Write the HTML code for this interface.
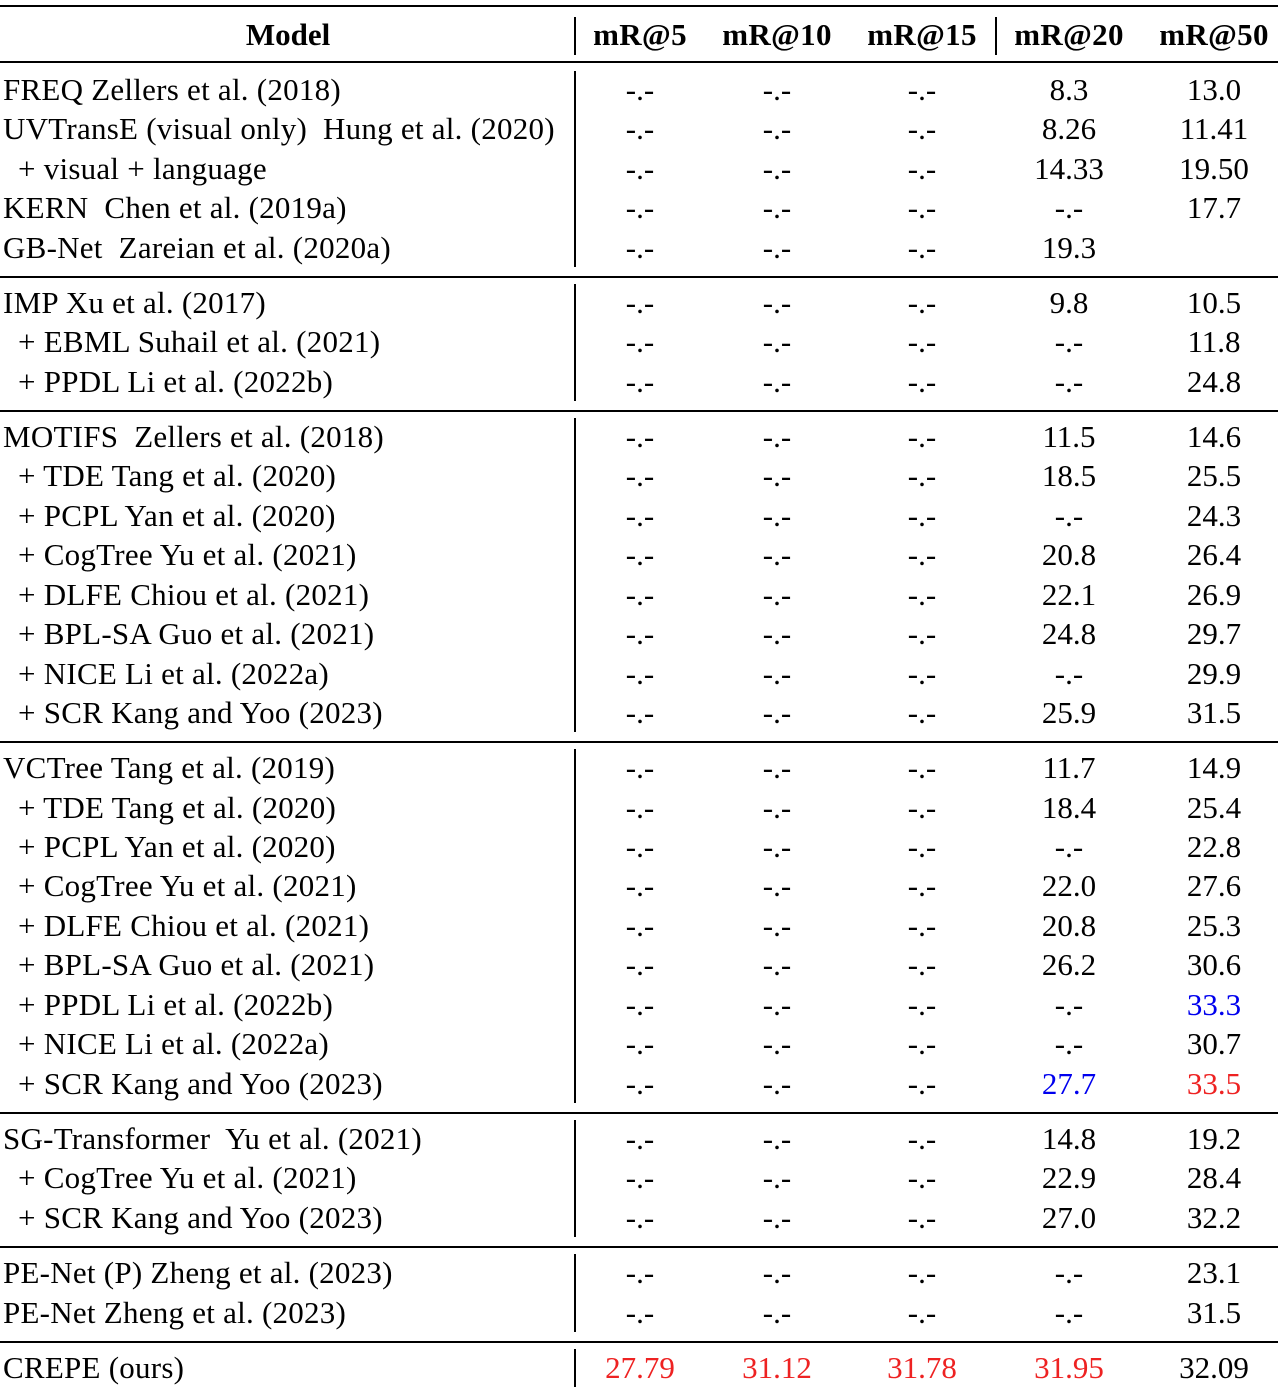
<!DOCTYPE html>
<html><head><meta charset="utf-8"><style>
body{margin:0;background:#fff;width:1278px;height:1390px;position:relative;overflow:hidden;font-family:"Liberation Serif",serif;font-size:31px;color:#000}
.t{position:absolute;white-space:nowrap;line-height:1}
.m{letter-spacing:0.25px}
.c{transform:translateX(-50%)}
.rule{position:absolute;left:0;width:1278px;background:#000}
.vl{position:absolute;width:1.5px;background:#000}
</style></head><body>
<div id="root"></div>
<script>
const models=[
["FREQ Zellers et al. (2018)",["-.-","-.-","-.-","8.3","13.0"]],
["UVTransE (visual only)&nbsp; Hung et al. (2020)",["-.-","-.-","-.-","8.26","11.41"]],
["+ visual + language",["-.-","-.-","-.-","14.33","19.50"]],
["KERN&nbsp; Chen et al. (2019a)",["-.-","-.-","-.-","-.-","17.7"]],
["GB-Net&nbsp; Zareian et al. (2020a)",["-.-","-.-","-.-","19.3",""]],
["IMP Xu et al. (2017)",["-.-","-.-","-.-","9.8","10.5"]],
["+ EBML Suhail et al. (2021)",["-.-","-.-","-.-","-.-","11.8"]],
["+ PPDL Li et al. (2022b)",["-.-","-.-","-.-","-.-","24.8"]],
["MOTIFS&nbsp; Zellers et al. (2018)",["-.-","-.-","-.-","11.5","14.6"]],
["+ TDE Tang et al. (2020)",["-.-","-.-","-.-","18.5","25.5"]],
["+ PCPL Yan et al. (2020)",["-.-","-.-","-.-","-.-","24.3"]],
["+ CogTree Yu et al. (2021)",["-.-","-.-","-.-","20.8","26.4"]],
["+ DLFE Chiou et al. (2021)",["-.-","-.-","-.-","22.1","26.9"]],
["+ BPL-SA Guo et al. (2021)",["-.-","-.-","-.-","24.8","29.7"]],
["+ NICE Li et al. (2022a)",["-.-","-.-","-.-","-.-","29.9"]],
["+ SCR Kang and Yoo (2023)",["-.-","-.-","-.-","25.9","31.5"]],
["VCTree Tang et al. (2019)",["-.-","-.-","-.-","11.7","14.9"]],
["+ TDE Tang et al. (2020)",["-.-","-.-","-.-","18.4","25.4"]],
["+ PCPL Yan et al. (2020)",["-.-","-.-","-.-","-.-","22.8"]],
["+ CogTree Yu et al. (2021)",["-.-","-.-","-.-","22.0","27.6"]],
["+ DLFE Chiou et al. (2021)",["-.-","-.-","-.-","20.8","25.3"]],
["+ BPL-SA Guo et al. (2021)",["-.-","-.-","-.-","26.2","30.6"]],
["+ PPDL Li et al. (2022b)",["-.-","-.-","-.-","-.-","33.3"]],
["+ NICE Li et al. (2022a)",["-.-","-.-","-.-","-.-","30.7"]],
["+ SCR Kang and Yoo (2023)",["-.-","-.-","-.-","27.7","33.5"]],
["SG-Transformer&nbsp; Yu et al. (2021)",["-.-","-.-","-.-","14.8","19.2"]],
["+ CogTree Yu et al. (2021)",["-.-","-.-","-.-","22.9","28.4"]],
["+ SCR Kang and Yoo (2023)",["-.-","-.-","-.-","27.0","32.2"]],
["PE-Net (P) Zheng et al. (2023)",["-.-","-.-","-.-","-.-","23.1"]],
["PE-Net Zheng et al. (2023)",["-.-","-.-","-.-","-.-","31.5"]],
["CREPE (ours)",["27.79","31.12","31.78","31.95","32.09"]]
];
const groups=[5,3,8,9,3,2,1];
const rowY=[90,129,169,208,248,303,342,382,437,476,516,555,595,634,674,713,768,808,847,886,926,965,1005,1044,1084,1139,1178,1218,1273,1313,1368];
const colX=[640,777,922,1069,1214];
const headers=["mR@5","mR@10","mR@15","mR@20","mR@50"];
const colors={"22-4":"#0000ee","24-3":"#0000ee","24-4":"#ee2222","30-0":"#ee2222","30-1":"#ee2222","30-2":"#ee2222","30-3":"#ee2222"};
const root=document.getElementById('root');
function add(cls,style,html){const d=document.createElement('div');d.className=cls;d.style.cssText=style;if(html!==undefined)d.innerHTML=html;root.appendChild(d);return d;}
let r=add('rule','top:5px;height:2px');


r=add('rule','top:61px;height:1.5px');


let h=add('t c','left:288px;top:19px;font-weight:bold','Model');


headers.forEach((t,i)=>{const e=add('t c','left:'+colX[i]+'px;top:19px;font-weight:bold;letter-spacing:0.3px',t);

});
let v=add('vl','left:574px;top:17px;height:38px');


v=add('vl','left:995px;top:17px;height:38px');


models.forEach((m,i)=>{const y=rowY[i]-16;
const ind=m[0].startsWith('+')?18:3;
const e=add('t m','left:'+ind+'px;top:'+y+'px',m[0]);


m[1].forEach((val,j)=>{const c=add('t c','left:'+colX[j]+'px;top:'+y+'px;color:'+(colors[i+'-'+j]||'#000'),val);

});});
let idx=0;
groups.forEach((g,k)=>{const top=rowY[idx]-19,bot=rowY[idx+g-1]+19;
const vv=add('vl','left:574px;top:'+top+'px;height:'+(bot-top)+'px');


idx+=g;
if(k<groups.length-1){const ry=Math.round((rowY[idx-1]+rowY[idx])/2);
const rr=add('rule','top:'+ry+'px;height:1.5px');

}});
</script>
</body></html>
